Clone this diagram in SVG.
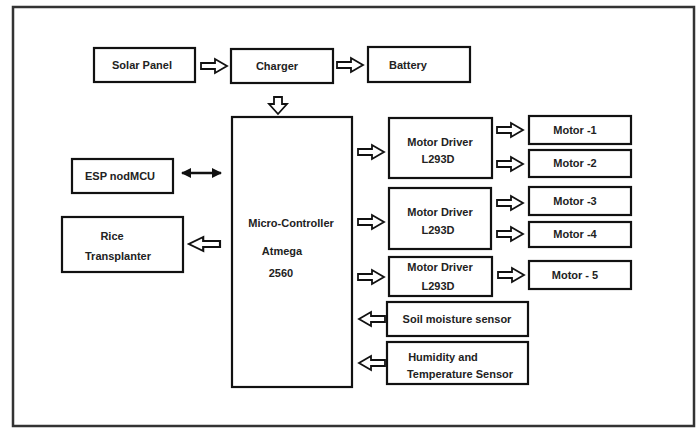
<svg xmlns="http://www.w3.org/2000/svg" xmlns:xlink="http://www.w3.org/1999/xlink" width="699" height="428" viewBox="0 0 699 428">
<style>
.box{fill:#fff;stroke:#111;stroke-width:2.2}
.t{font-family:"Liberation Sans",Arial,sans-serif;font-weight:bold;font-size:11px;fill:#222;text-anchor:middle}
.ar{fill:#fff;stroke:#111;stroke-width:1.8;stroke-linejoin:miter}
</style>
<defs>
<path id="ha" d="M0,-3 H14 V-7 L26,0 L14,7 V3 H0 Z"/>
<marker id="ah" viewBox="0 0 10 10" refX="9" refY="5" markerWidth="4" markerHeight="4" orient="auto-start-reverse" markerUnits="strokeWidth">
<path d="M0,0 L10,5 L0,10 Z" fill="#111"/>
</marker>
</defs>
<rect x="0" y="0" width="699" height="428" fill="#fff"/>
<rect id="frame" x="13" y="7" width="681" height="419" fill="none" stroke="#333" stroke-width="2.5"/>

<g id="solar"><rect class="box" x="94" y="48" width="101" height="34"/><text class="t" x="142" y="69">Solar Panel</text></g>
<g id="charger"><rect class="box" x="231" y="49" width="102" height="34"/><text class="t" x="277" y="70">Charger</text></g>
<g id="battery"><rect class="box" x="368" y="47" width="102" height="35"/><text class="t" x="408" y="69">Battery</text></g>
<g id="mcu"><rect class="box" x="232" y="117" width="120" height="270"/>
<text class="t" x="291" y="227">Micro-Controller</text>
<text class="t" x="282" y="255">Atmega</text>
<text class="t" x="281" y="277">2560</text></g>
<g id="esp"><rect class="box" x="72" y="159" width="101" height="34"/><text class="t" x="120" y="180">ESP nodMCU</text></g>
<g id="rice"><rect class="box" x="62" y="217" width="121" height="55"/><text class="t" x="112" y="240">Rice</text><text class="t" x="118" y="260">Transplanter</text></g>
<g id="md1"><rect class="box" x="389" y="118" width="103" height="60"/><text class="t" x="440" y="146">Motor Driver</text><text class="t" x="438" y="163">L293D</text></g>
<g id="motor1"><rect class="box" x="529" y="116" width="102" height="28"/><text class="t" x="575" y="134">Motor -1</text></g>
<g id="motor2"><rect class="box" x="529" y="150" width="102" height="27"/><text class="t" x="575" y="167">Motor -2</text></g>
<g id="md2"><rect class="box" x="389" y="188" width="102" height="61"/><text class="t" x="440" y="216">Motor Driver</text><text class="t" x="438" y="234">L293D</text></g>
<g id="motor3"><rect class="box" x="529" y="187" width="102" height="28"/><text class="t" x="575" y="205">Motor -3</text></g>
<g id="motor4"><rect class="box" x="529" y="222" width="102" height="25"/><text class="t" x="575" y="238">Motor -4</text></g>
<g id="md3"><rect class="box" x="389" y="257" width="103" height="39"/><text class="t" x="440" y="271">Motor Driver</text><text class="t" x="438" y="290">L293D</text></g>
<g id="motor5"><rect class="box" x="529" y="261" width="102" height="28"/><text class="t" x="575" y="279">Motor - 5</text></g>
<g id="soil"><rect class="box" x="387" y="302" width="141" height="34"/><text class="t" x="457" y="323">Soil moisture sensor</text></g>
<g id="hum"><rect class="box" x="387" y="342" width="141" height="42"/><text class="t" x="443" y="361">Humidity and</text><text class="t" x="460" y="378">Temperature Sensor</text></g>

<g id="connectors">
<use xlink:href="#ha" class="ar" transform="translate(201,66)"/>
<use xlink:href="#ha" class="ar" transform="translate(337,65)"/>
<path class="ar" d="M274,97 h8 v7 h5 l-9,10 l-9,-10 h5 z"/>
<use xlink:href="#ha" class="ar" transform="translate(358,152)"/>
<use xlink:href="#ha" class="ar" transform="translate(497,130)"/>
<use xlink:href="#ha" class="ar" transform="translate(497,164)"/>
<use xlink:href="#ha" class="ar" transform="translate(358,222)"/>
<use xlink:href="#ha" class="ar" transform="translate(497,203)"/>
<use xlink:href="#ha" class="ar" transform="translate(497,234)"/>
<use xlink:href="#ha" class="ar" transform="translate(358,277)"/>
<use xlink:href="#ha" class="ar" transform="translate(498,275)"/>
<use xlink:href="#ha" class="ar" transform="translate(385,319) rotate(180)"/>
<use xlink:href="#ha" class="ar" transform="translate(385,363) rotate(180)"/>
<use xlink:href="#ha" class="ar" transform="translate(220,244) rotate(180) scale(1.2,1)"/>
<line x1="182" y1="173" x2="221" y2="173" stroke="#111" stroke-width="2.5" marker-start="url(#ah)" marker-end="url(#ah)"/>
</g>
</svg>
